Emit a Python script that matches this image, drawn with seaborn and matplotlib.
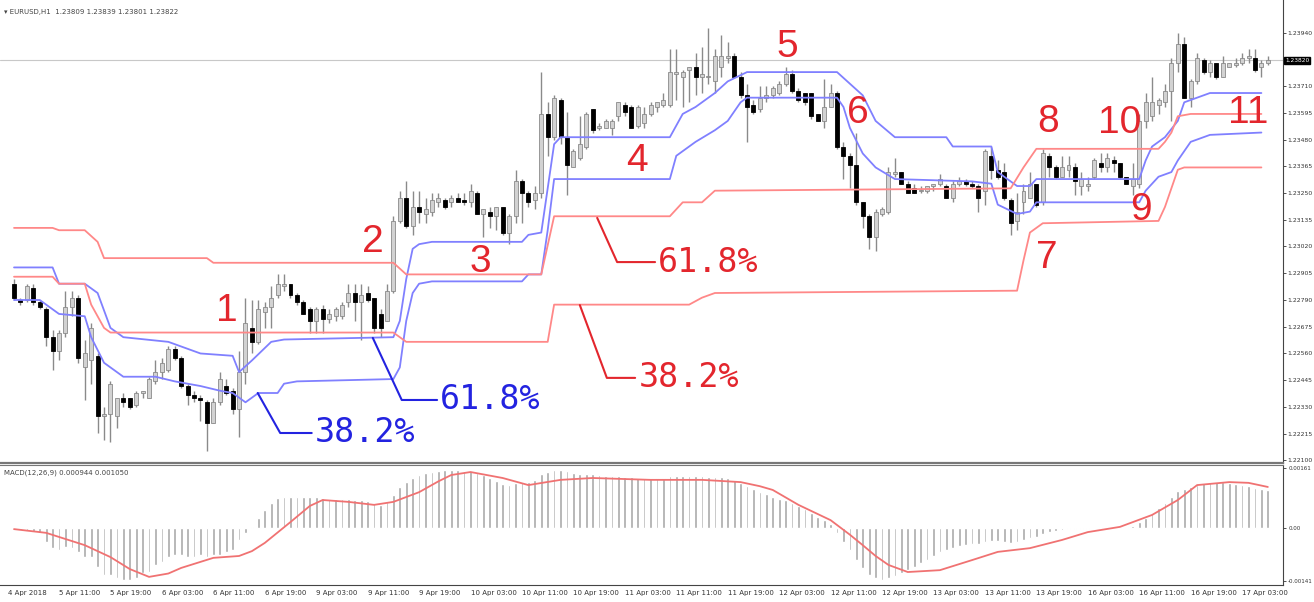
import numpy as np
import seaborn as sns
import matplotlib.pyplot as plt

sns.set_style("white")
plt.rcParams['font.family'] = ['DejaVu Sans']

# hourly EURUSD candles, bar 0 .. 195
open_ = [1.2286, 1.2279, 1.2279, 1.2284, 1.2278, 1.2275, 1.2263, 1.2257, 1.2265, 1.2276,
         1.2280, 1.2250, 1.2253, 1.2255, 1.2229, 1.2230, 1.2229, 1.2237, 1.2237, 1.2234,
         1.2239, 1.2237, 1.2244, 1.2248, 1.2249, 1.2258, 1.2254, 1.2242, 1.2238, 1.2237,
         1.2235, 1.2226, 1.2235, 1.2242, 1.2240, 1.2232, 1.2248, 1.2267, 1.2261, 1.2274,
         1.2276, 1.2281, 1.2285, 1.2286, 1.2281, 1.2278, 1.2275, 1.2270, 1.2275, 1.2271,
         1.2272, 1.2272, 1.2278, 1.2282, 1.2278, 1.2282, 1.2280, 1.2273, 1.2270, 1.2283,
         1.2313, 1.2323, 1.2311, 1.2319, 1.2316, 1.2317, 1.2321, 1.2322, 1.2321, 1.2323,
         1.2322, 1.2321, 1.2325, 1.2316, 1.2317, 1.2315, 1.2319, 1.2308, 1.2315, 1.2330,
         1.2325, 1.2322, 1.2325, 1.2359, 1.2349, 1.2365, 1.2349, 1.2336, 1.2340, 1.2345,
         1.2361, 1.2353, 1.2353, 1.2353, 1.2358, 1.2363, 1.2362, 1.2354, 1.2355, 1.2359,
         1.2362, 1.2363, 1.2363, 1.2376, 1.2375, 1.2378, 1.2379, 1.2375, 1.2375, 1.2373,
         1.2379, 1.2383, 1.2384, 1.2375, 1.2367, 1.2363, 1.2361, 1.2366, 1.2367, 1.2368,
         1.2372, 1.2376, 1.2369, 1.2368, 1.2368, 1.2359, 1.2356, 1.2362, 1.2368, 1.2345,
         1.2341, 1.2337, 1.2321, 1.2315, 1.2306, 1.2316, 1.2317, 1.2333, 1.2334, 1.2329,
         1.2327, 1.2326, 1.2326, 1.2328, 1.2329, 1.2328, 1.2323, 1.2329, 1.2330, 1.2329,
         1.2328, 1.2326, 1.2341, 1.2335, 1.2334, 1.2322, 1.2313, 1.2321, 1.2323, 1.2329,
         1.2321, 1.2341, 1.2336, 1.2332, 1.2335, 1.2336, 1.2328, 1.2328, 1.2332, 1.2338,
         1.2336, 1.2339, 1.2338, 1.2332, 1.2328, 1.2329, 1.2356, 1.2358, 1.2363, 1.2364,
         1.2369, 1.2381, 1.2389, 1.2366, 1.2373, 1.2382, 1.2377, 1.2381, 1.2375, 1.2379,
         1.2380, 1.2381, 1.2383, 1.2383, 1.2379, 1.2381]
high = [1.2288, 1.2280, 1.2286, 1.2286, 1.2279, 1.2276, 1.2266, 1.2266, 1.2283, 1.2283,
        1.2281, 1.2262, 1.2269, 1.2256, 1.2233, 1.2244, 1.2237, 1.2239, 1.2237, 1.2240,
        1.2240, 1.2246, 1.2253, 1.2254, 1.2259, 1.2259, 1.2255, 1.2243, 1.2240, 1.2238,
        1.2236, 1.2237, 1.2248, 1.2245, 1.2241, 1.2257, 1.2280, 1.2279, 1.2279, 1.2278,
        1.2285, 1.2290, 1.2290, 1.2286, 1.2282, 1.2279, 1.2276, 1.2276, 1.2277, 1.2275,
        1.2276, 1.2278, 1.2286, 1.2286, 1.2286, 1.2285, 1.2280, 1.2275, 1.2286, 1.2315,
        1.2326, 1.2330, 1.2326, 1.2326, 1.2323, 1.2325, 1.2325, 1.2323, 1.2324, 1.2325,
        1.2325, 1.2329, 1.2326, 1.2318, 1.2319, 1.2319, 1.2319, 1.2316, 1.2335, 1.2331,
        1.2326, 1.2328, 1.2377, 1.2364, 1.2367, 1.2366, 1.2360, 1.2344, 1.2358, 1.2360,
        1.2361, 1.2355, 1.2357, 1.2357, 1.2364, 1.2364, 1.2363, 1.2363, 1.2362, 1.2364,
        1.2364, 1.2368, 1.2387, 1.2387, 1.2378, 1.2379, 1.2385, 1.2388, 1.2396, 1.2387,
        1.2393, 1.2390, 1.2385, 1.2377, 1.2372, 1.2365, 1.2371, 1.2371, 1.2371, 1.2373,
        1.2379, 1.2378, 1.2370, 1.2368, 1.2368, 1.2359, 1.2374, 1.2372, 1.2369, 1.2347,
        1.2342, 1.2351, 1.2321, 1.2316, 1.2318, 1.2319, 1.2336, 1.2340, 1.2334, 1.2330,
        1.2329, 1.2328, 1.2328, 1.2329, 1.2333, 1.2329, 1.2330, 1.2332, 1.2331, 1.2330,
        1.2329, 1.2344, 1.2345, 1.2339, 1.2338, 1.2323, 1.2325, 1.2329, 1.2334, 1.2329,
        1.2344, 1.2342, 1.2337, 1.2341, 1.2341, 1.2338, 1.2334, 1.2332, 1.2340, 1.2342,
        1.2342, 1.2341, 1.2338, 1.2332, 1.2338, 1.2359, 1.2368, 1.2375, 1.2366, 1.2372,
        1.2383, 1.2394, 1.2392, 1.2374, 1.2385, 1.2383, 1.2382, 1.2381, 1.2384, 1.2381,
        1.2383, 1.2385, 1.2387, 1.2387, 1.2382, 1.2384]
low = [1.2279, 1.2277, 1.2278, 1.2277, 1.2275, 1.2259, 1.2249, 1.2253, 1.2263, 1.2272,
       1.2252, 1.2236, 1.2243, 1.2222, 1.2219, 1.2218, 1.2224, 1.2233, 1.2232, 1.2233,
       1.2237, 1.2237, 1.2243, 1.2245, 1.2248, 1.2253, 1.2241, 1.2234, 1.2235, 1.2227,
       1.2214, 1.2226, 1.2234, 1.2238, 1.2230, 1.2220, 1.2243, 1.2256, 1.2260, 1.2267,
       1.2267, 1.2280, 1.2283, 1.2280, 1.2277, 1.2273, 1.2265, 1.2265, 1.2265, 1.2269,
       1.2270, 1.2271, 1.2276, 1.2270, 1.2262, 1.2278, 1.2265, 1.2263, 1.2270, 1.2282,
       1.2312, 1.2310, 1.2307, 1.2312, 1.2312, 1.2315, 1.2319, 1.2318, 1.2319, 1.2321,
       1.2320, 1.2319, 1.2316, 1.2306, 1.2310, 1.2309, 1.2307, 1.2303, 1.2312, 1.2312,
       1.2319, 1.2318, 1.2323, 1.2341, 1.2348, 1.2346, 1.2324, 1.2336, 1.2339, 1.2344,
       1.2351, 1.2352, 1.2353, 1.2350, 1.2356, 1.2358, 1.2353, 1.2353, 1.2353, 1.2358,
       1.2360, 1.2362, 1.2362, 1.2365, 1.2362, 1.2364, 1.2367, 1.2368, 1.2372, 1.2368,
       1.2375, 1.2381, 1.2375, 1.2366, 1.2347, 1.2359, 1.2360, 1.2364, 1.2366, 1.2367,
       1.2371, 1.2368, 1.2364, 1.2363, 1.2357, 1.2356, 1.2353, 1.2362, 1.2344, 1.2331,
       1.2327, 1.2320, 1.2310, 1.2301, 1.2300, 1.2315, 1.2316, 1.2332, 1.2329, 1.2325,
       1.2325, 1.2325, 1.2325, 1.2326, 1.2328, 1.2323, 1.2321, 1.2328, 1.2328, 1.2327,
       1.2317, 1.2320, 1.2331, 1.2331, 1.2322, 1.2307, 1.2309, 1.2316, 1.2323, 1.2319,
       1.2320, 1.2332, 1.2331, 1.2332, 1.2332, 1.2324, 1.2324, 1.2326, 1.2331, 1.2334,
       1.2334, 1.2334, 1.2331, 1.2329, 1.2324, 1.2327, 1.2353, 1.2356, 1.2359, 1.2362,
       1.2356, 1.2377, 1.2366, 1.2362, 1.2372, 1.2376, 1.2375, 1.2374, 1.2375, 1.2379,
       1.2379, 1.2380, 1.2381, 1.2377, 1.2375, 1.2380]
close = [1.2280, 1.2278, 1.2285, 1.2278, 1.2276, 1.2263, 1.2257, 1.2265, 1.2276, 1.2280,
         1.2254, 1.2256, 1.2267, 1.2229, 1.2230, 1.2243, 1.2237, 1.2235, 1.2233, 1.2239,
         1.2240, 1.2245, 1.2248, 1.2252, 1.2258, 1.2254, 1.2242, 1.2238, 1.2237, 1.2236,
         1.2226, 1.2235, 1.2245, 1.2239, 1.2232, 1.2248, 1.2269, 1.2261, 1.2275, 1.2276,
         1.2280, 1.2286, 1.2286, 1.2281, 1.2278, 1.2273, 1.2270, 1.2275, 1.2271, 1.2273,
         1.2275, 1.2277, 1.2282, 1.2278, 1.2281, 1.2279, 1.2267, 1.2267, 1.2283, 1.2313,
         1.2323, 1.2311, 1.2319, 1.2317, 1.2318, 1.2322, 1.2323, 1.2319, 1.2323, 1.2321,
         1.2321, 1.2326, 1.2316, 1.2318, 1.2315, 1.2319, 1.2308, 1.2315, 1.2330, 1.2325,
         1.2321, 1.2325, 1.2359, 1.2349, 1.2366, 1.2349, 1.2337, 1.2343, 1.2346, 1.2359,
         1.2352, 1.2354, 1.2356, 1.2356, 1.2364, 1.2360, 1.2353, 1.2362, 1.2359, 1.2363,
         1.2364, 1.2365, 1.2377, 1.2377, 1.2377, 1.2379, 1.2375, 1.2376, 1.2375, 1.2384,
         1.2384, 1.2384, 1.2375, 1.2367, 1.2362, 1.2360, 1.2366, 1.2367, 1.2370, 1.2372,
         1.2376, 1.2369, 1.2365, 1.2364, 1.2358, 1.2356, 1.2362, 1.2368, 1.2345, 1.2341,
         1.2337, 1.2321, 1.2315, 1.2306, 1.2317, 1.2318, 1.2334, 1.2334, 1.2329, 1.2325,
         1.2325, 1.2326, 1.2328, 1.2329, 1.2331, 1.2323, 1.2329, 1.2330, 1.2329, 1.2328,
         1.2323, 1.2343, 1.2335, 1.2332, 1.2323, 1.2312, 1.2317, 1.2326, 1.2329, 1.2320,
         1.2342, 1.2336, 1.2332, 1.2336, 1.2337, 1.2330, 1.2331, 1.2329, 1.2339, 1.2336,
         1.2340, 1.2338, 1.2332, 1.2329, 1.2331, 1.2356, 1.2364, 1.2364, 1.2365, 1.2369,
         1.2381, 1.2389, 1.2366, 1.2373, 1.2383, 1.2377, 1.2381, 1.2375, 1.2381, 1.2381,
         1.2381, 1.2383, 1.2384, 1.2378, 1.2381, 1.2382]

# MACD(12,26,9) main histogram, in units of 0.00001
macd_hist = [-3, -5, -8, -11, -13, -38, -54, -59, -51, -54, -64, -78, -78, -105, -126, -126,
             -134, -139, -139, -134, -121, -118, -99, -91, -78, -72, -72, -78, -78, -72, -78,
             -72, -72, -64, -59, -32, -13, 3, 27, 48, 67, 80, 83, 83, 83, 83, 83, 83, 80, 78,
             78, 78, 78, 75, 75, 72, 67, 62, 70, 88, 110, 123, 134, 142, 147, 150, 153, 155,
             155, 155, 153, 153, 147, 142, 134, 126, 118, 115, 121, 123, 123, 129, 145, 150,
             155, 155, 153, 147, 145, 145, 145, 142, 139, 139, 139, 137, 137, 134, 134, 134,
             134, 134, 139, 139, 139, 139, 139, 139, 137, 137, 137, 134, 129, 121, 113, 105,
             96, 91, 83, 78, 75, 67, 59, 51, 40, 29, 21, 11, -13, -38, -59, -86, -107, -126,
             -134, -139, -134, -129, -121, -113, -105, -94, -86, -75, -64, -59, -54, -48, -46,
             -43, -43, -38, -35, -35, -38, -40, -38, -32, -27, -24, -16, -11, -8, -5, -3, -3,
             -3, -3, 0, 3, 3, 3, 3, 3, 5, 16, 27, 40, 54, 67, 83, 99, 105, 110, 115, 121, 123,
             123, 123, 121, 118, 115, 113, 107, 105, 102]
signal_bar = [0, 5, 11, 15, 18, 21, 24, 26, 31, 35, 37, 39, 41, 43, 46, 48, 52, 56, 59, 63,
              66, 68, 71, 76, 80, 85, 90, 99, 107, 113, 116, 118, 122, 127, 130, 132, 134,
              136, 139, 144, 149, 153, 158, 163, 167, 172, 177, 181, 184, 189, 192, 195]
signal_val = [-3, -13, -46, -78, -110, -131, -122, -107, -80, -75, -62, -40, -12, 16, 59,
              75, 70, 62, 70, 96, 125, 142, 150, 134, 115, 129, 134, 129, 129, 123, 112, 102,
              62, 21, -18, -46, -75, -99, -118, -113, -86, -64, -54, -32, -11, 3, 35, 75,
              115, 123, 121, 110]

# channel levels (blue pair and red pair), break points as (bar, price)
blue_hi_bar = [0, 6, 7, 11, 13, 15, 17, 24, 29, 34, 35, 37, 40, 42, 59, 60, 61, 62, 63, 65,
               79, 80, 82, 84, 85, 102, 104, 106, 109, 111, 114, 128, 130, 132, 134, 137,
               145, 146, 152, 153, 156, 158, 159, 175, 176, 177, 179, 181, 182, 184, 186, 194]
blue_hi = [1.2293, 1.2293, 1.2286, 1.2286, 1.2282, 1.2267, 1.2263, 1.2261, 1.2256, 1.2255,
           1.2248, 1.2253, 1.2261, 1.2262, 1.2263, 1.2270, 1.2288, 1.2301, 1.2303, 1.2304,
           1.2304, 1.2307, 1.2308, 1.2346, 1.2349, 1.2349, 1.2359, 1.2362, 1.2368, 1.2373,
           1.2377, 1.2377, 1.2372, 1.2367, 1.2356, 1.2349, 1.2349, 1.2345, 1.2345, 1.2334,
           1.2328, 1.2328, 1.2331, 1.2331, 1.2339, 1.2345, 1.2349, 1.2356, 1.2364, 1.2366,
           1.2368, 1.2368]
blue_lo_bar = [0, 4, 5, 7, 11, 12, 14, 17, 22, 25, 29, 32, 34, 36, 37, 38, 41, 42, 44, 59,
               60, 61, 62, 63, 65, 79, 80, 82, 83, 84, 102, 103, 106, 109, 111, 113, 114,
               128, 129, 130, 132, 134, 137, 149, 152, 153, 156, 158, 159, 175, 176, 178,
               180, 181, 183, 184, 186, 194]
blue_lo = [1.2279, 1.2279, 1.2277, 1.2273, 1.2272, 1.2263, 1.2252, 1.2246, 1.2246, 1.2244,
           1.2242, 1.2240, 1.2239, 1.2235, 1.2237, 1.2239, 1.2239, 1.2243, 1.2244, 1.2245,
           1.2250, 1.2270, 1.2282, 1.2286, 1.2287, 1.2287, 1.2290, 1.2290, 1.2309, 1.2331,
           1.2331, 1.2341, 1.2347, 1.2352, 1.2356, 1.2364, 1.2366, 1.2366, 1.2362, 1.2353,
           1.2342, 1.2336, 1.2331, 1.2330, 1.2329, 1.2320, 1.2316, 1.2317, 1.2321, 1.2321,
           1.2326, 1.2332, 1.2334, 1.2339, 1.2347, 1.2348, 1.2350, 1.2351]
red_hi_bar = [0, 6, 7, 11, 13, 14, 30, 31, 59, 61, 82, 84, 102, 104, 107, 109, 155, 157,
              159, 178, 179, 180, 181, 183, 194]
red_hi = [1.2310, 1.2310, 1.2309, 1.2309, 1.2304, 1.2297, 1.2297, 1.2295, 1.2295, 1.2290,
          1.2290, 1.2315, 1.2315, 1.2321, 1.2321, 1.2326, 1.2327, 1.2336, 1.2344, 1.2344,
          1.2347, 1.2351, 1.2358, 1.2359, 1.2359]
red_lo_bar = [0, 6, 7, 11, 12, 14, 15, 59, 61, 83, 84, 105, 107, 109, 156, 157, 158, 160,
              178, 179, 181, 182, 194]
red_lo = [1.2289, 1.2289, 1.2286, 1.2286, 1.2277, 1.2267, 1.2265, 1.2265, 1.2261, 1.2261,
          1.2277, 1.2277, 1.2280, 1.2282, 1.2283, 1.2296, 1.2308, 1.2312, 1.2313, 1.2319,
          1.2335, 1.2336, 1.2336]

price_ticks = [1.23940, 1.23710, 1.23595, 1.23480, 1.23365, 1.23250, 1.23135, 1.23020,
               1.22905, 1.22790, 1.22675, 1.22560, 1.22445, 1.22330, 1.22215, 1.22100]
time_ticks = [-1, 7, 15, 23, 31, 39, 47, 55, 63, 71, 79, 87, 95, 103, 111, 119, 127, 135,
              143, 151, 159, 167, 175, 183, 191]
time_labels = ["4 Apr 2018", "5 Apr 11:00", "5 Apr 19:00", "6 Apr 03:00", "6 Apr 11:00",
               "6 Apr 19:00", "9 Apr 03:00", "9 Apr 11:00", "9 Apr 19:00", "10 Apr 03:00",
               "10 Apr 11:00", "10 Apr 19:00", "11 Apr 03:00", "11 Apr 11:00", "11 Apr 19:00",
               "12 Apr 03:00", "12 Apr 11:00", "12 Apr 19:00", "13 Apr 03:00", "13 Apr 11:00",
               "13 Apr 19:00", "16 Apr 03:00", "16 Apr 11:00", "16 Apr 19:00", "17 Apr 03:00"]

# swing numbers (bar, price)
swing_labels = ["1", "2", "3", "4", "5", "6", "7", "8", "9", "10", "11"]
swing_bar = [33.1, 55.8, 72.6, 96.9, 120.2, 131.3, 160.7, 160.8, 175.3, 172.0, 191.9]
swing_price = [1.22743, 1.23039, 1.22953, 1.23388, 1.23878, 1.23594, 1.22971, 1.23555,
               1.23177, 1.23551, 1.23594]

# fibonacci call-outs: text, colour, connector (bars, prices)
callouts = [
    ("38.2%", "#2323e0", [37.9, 41.4, 46.3], [1.22390, 1.22218, 1.22218]),
    ("61.8%", "#2323e0", [55.8, 60.3, 65.8], [1.22627, 1.22360, 1.22360]),
    ("61.8%", "#e3262d", [90.7, 93.8, 99.7], [1.23143, 1.22953, 1.22953]),
    ("38.2%", "#e3262d", [88.0, 92.2, 96.6], [1.22768, 1.22455, 1.22455]),
]

bars = np.arange(len(close))
o, h, l, c = map(np.array, (open_, high, low, close))
bull = c >= o
body = np.maximum(np.abs(c - o), 0.00002)

fig = plt.figure(figsize=(13.14, 6.02), dpi=100)
ax = fig.add_axes([0, 0.2309, 0.97641, 0.7691])
ax2 = fig.add_axes([0, 0.02824, 0.97641, 0.19934])

# price panel
last = close[-1]
ax.axhline(last, color="#c8c8c8", lw=0.8, zorder=0)
ax.vlines(bars, l, h, color="#8a8a8a", lw=1, zorder=2)
ax.bar(bars[bull], body[bull], bottom=np.minimum(o, c)[bull], width=0.62,
       color="#d2d2d2", edgecolor="#8a8a8a", lw=0.6, zorder=3)
ax.bar(bars[~bull], body[~bull], bottom=np.minimum(o, c)[~bull], width=0.62,
       color="black", edgecolor="black", lw=0.6, zorder=3)

for xs, ys, col in [(blue_hi_bar, blue_hi, "#8080ff"), (blue_lo_bar, blue_lo, "#8080ff"),
                    (red_hi_bar, red_hi, "#ff8888"), (red_lo_bar, red_lo, "#ff8888")]:
    sns.lineplot(x=xs, y=ys, ax=ax, color=col, lw=1.3, estimator=None, sort=False, zorder=4)

for s, bx, py in zip(swing_labels, swing_bar, swing_price):
    ax.text(bx, py, s, color="#e3262d", fontsize=28, ha="center", va="center",
            family="Liberation Sans", zorder=6)

for s, col, xs, ys in callouts:
    ax.plot(xs, ys, color=col, lw=1.5, zorder=5)
    ax.text(xs[-1] + 0.5, ys[-1], s, color=col, fontsize=24, ha="left", va="center",
            family="DejaVu Sans Mono", zorder=6)

ax.set_xlim(-2.18, 197.36)
ax.set_ylim(1.22089, 1.24080)
ax.set_xticks([])
ax.yaxis.tick_right()
ax.set_yticks(price_ticks)
ax.set_yticklabels([f"{p:.5f}" for p in price_ticks], fontsize=4.4, color="#333333")
ax.tick_params(axis="y", length=2.5, width=0.6, pad=0.8, colors="#333333")
for side in ["left", "top"]:
    ax.spines[side].set_visible(False)
ax.spines["right"].set_color("#444444")
ax.spines["bottom"].set_color("#777777")
ax.spines["bottom"].set_linewidth(1.6)
ax.set_xlabel("")
ax.set_ylabel("")
ax.text(1.0015, last, f"{last:.5f}", transform=ax.get_yaxis_transform(), fontsize=4.2,
        color="white", va="center", ha="left",
        bbox=dict(facecolor="black", edgecolor="black", pad=0.6))
ax.text(0.003, 0.975, "\u25be EURUSD,H1  1.23809 1.23839 1.23801 1.23822",
        transform=ax.transAxes, fontsize=5, color="#444444", va="center")

# MACD panel
ax2.bar(bars, np.array(macd_hist) * 1e-5, width=0.42, color="#a9a9a9")
sns.lineplot(x=signal_bar, y=np.array(signal_val) * 1e-5, ax=ax2, color="#f07272", lw=1.3,
             estimator=None, sort=False)
ax2.set_xlim(-2.18, 197.36)
ax2.set_ylim(-0.0015276, 0.0016884)
ax2.yaxis.tick_right()
ax2.set_yticks([0.00161, 0.0, -0.00141])
ax2.set_yticklabels(["0.00161", "0.00", "-0.00141"], fontsize=4.0, color="#333333")
ax2.set_xticks(time_ticks)
ax2.set_xticklabels(time_labels, fontsize=5, color="#333333", ha="left")
ax2.tick_params(axis="both", length=2.5, width=0.6, pad=1.2, colors="#333333")
ax2.spines["left"].set_visible(False)
ax2.spines["top"].set_color("#777777")
ax2.spines["right"].set_color("#444444")
ax2.spines["bottom"].set_color("#444444")
ax2.set_xlabel("")
ax2.set_ylabel("")
ax2.text(0.003, 0.96, "MACD(12,26,9) 0.000944 0.001050", transform=ax2.transAxes,
         fontsize=5, color="#444444", va="top")

fig.savefig("out.png", dpi=100)
